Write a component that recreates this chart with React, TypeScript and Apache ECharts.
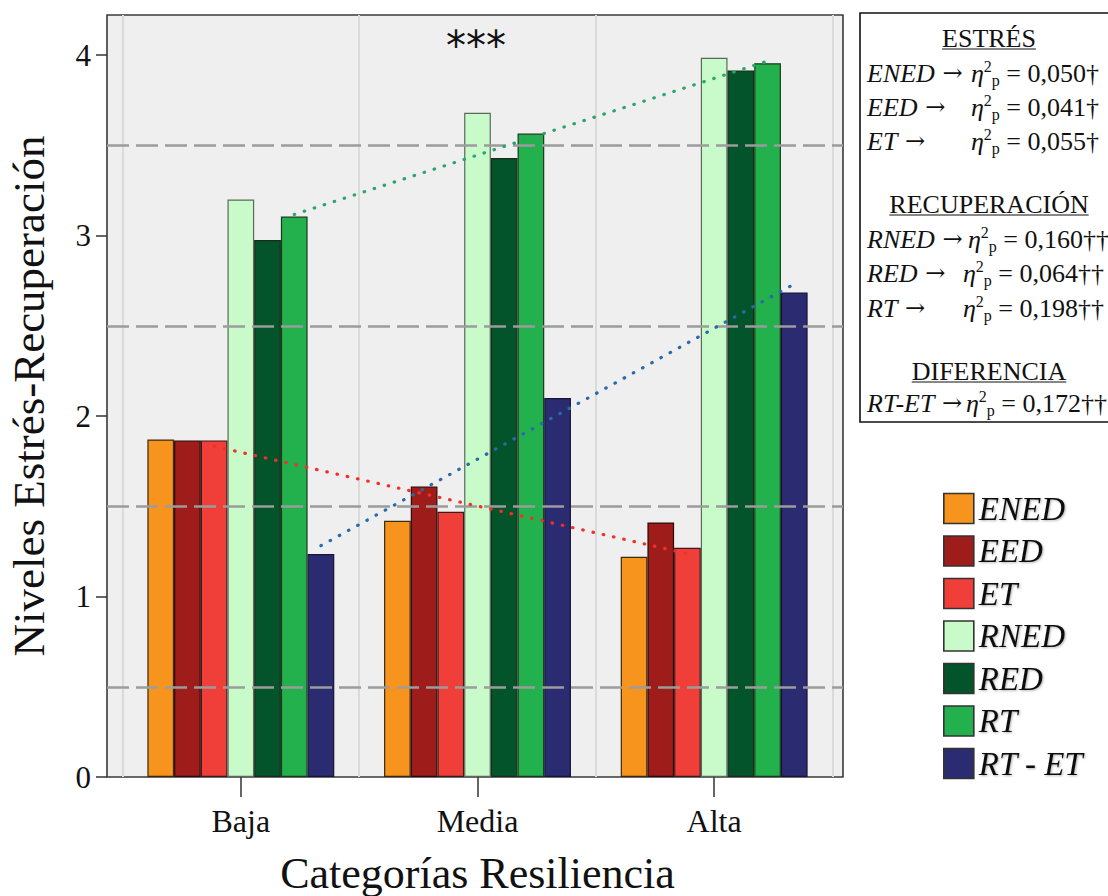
import React, { useEffect, useRef } from "react";
import * as echarts from "echarts";

// Resilience categories on the x axis
const categories = ["Baja", "Media", "Alta"];

// Stress / recovery scores per resilience category
const seriesNames = ["ENED", "EED", "ET", "RNED", "RED", "RT", "RT - ET"];
const enedValues = [1.87, 1.42, 1.22];
const eedValues = [1.865, 1.61, 1.41];
const etValues = [1.865, 1.47, 1.27];
const rnedValues = [3.2, 3.68, 3.985];
const redValues = [2.975, 3.43, 3.915];
const rtValues = [3.105, 3.565, 3.955];
const rtEtValues = [1.235, 2.1, 2.685];
const seriesValues = [enedValues, eedValues, etValues, rnedValues, redValues, rtValues, rtEtValues];
const seriesColors = ["#f7941d", "#9e1c1a", "#ef3f38", "#c8fbc9", "#03542a", "#22b14c", "#2b2b72"];
const seriesBorders = ["#3a2a10", "#2a0a0a", "#3a1a1a", "#5a6a5a", "#1a2a1a", "#1a3a1a", "#15153a"];

// Axis ticks and the dashed reference lines between them
const yTicks = [0, 1, 2, 3, 4];
const halfLines = [0.5, 1.5, 2.5, 3.5];
const Y_MAX = 4.222;

// Dotted least-squares trend lines drawn over some of the series
const trendSeries = [
  { index: 2, color: "#f0302a" },
  { index: 5, color: "#2ba56a" },
  { index: 6, color: "#2a6aa8" },
];

// Effect sizes shown in the side box
const boxSections = [
  {
    title: "ESTRÉS",
    y: 38,
    rows: [
      { label: "ENED", stat: "0,050†", y: 73, right: 1099 },
      { label: "EED", stat: "0,041†", y: 107, right: 1099 },
      { label: "ET", stat: "0,055†", y: 141, right: 1099 },
    ],
  },
  {
    title: "RECUPERACIÓN",
    y: 204,
    rows: [
      { label: "RNED", stat: "0,160††", y: 239, right: 1109 },
      { label: "RED", stat: "0,064††", y: 273, right: 1104 },
      { label: "RT", stat: "0,198††", y: 308, right: 1104 },
    ],
  },
  {
    title: "DIFERENCIA",
    y: 371,
    rows: [{ label: "RT-ET", stat: "0,172††", y: 403, right: 1107 }],
  },
];

const SERIF = "Liberation Serif, serif";
const ARROW_FONT = "DejaVu Serif, serif";
const BAR_WIDTH = 26.7;
const BAND_WIDTH = 236.7;

function measureText(text: string, font: string): number {
  const ctx = document.createElement("canvas").getContext("2d");
  if (!ctx) return text.length * 14;
  ctx.font = font;
  return ctx.measureText(text).width;
}

// Least-squares line through the three category points (x = 0, 1, 2)
function linearFit(values: number[]): [number, number] {
  const n = values.length;
  const xs = values.map((_, i) => i);
  const mx = xs.reduce((a, b) => a + b, 0) / n;
  const my = values.reduce((a, b) => a + b, 0) / n;
  let sxy = 0;
  let sxx = 0;
  xs.forEach((x, i) => {
    sxy += (x - mx) * (values[i] - my);
    sxx += (x - mx) * (x - mx);
  });
  const slope = sxy / sxx;
  const intercept = my - slope * mx;
  return [intercept, intercept + slope * (n - 1)];
}

function buildBoxGraphics() {
  const els: any[] = [];
  els.push({
    type: "rect",
    shape: { x: 860, y: 13, width: 262, height: 409 },
    style: { fill: "#ffffff", stroke: "#111", lineWidth: 1.6 },
    z: 10,
  });
  const fontSize = 26;
  const rich = {
    it: { fontFamily: SERIF, fontSize, fontStyle: "italic", fill: "#111", lineHeight: 30 },
    n: { fontFamily: SERIF, fontSize, fill: "#111", lineHeight: 30 },
    ar: { fontFamily: ARROW_FONT, fontSize: 24, fill: "#111", lineHeight: 30 },
    sup: { fontFamily: SERIF, fontSize: 16, fill: "#111", lineHeight: 14, verticalAlign: "top" },
    sub: { fontFamily: SERIF, fontSize: 16, fill: "#111", lineHeight: 14, verticalAlign: "bottom" },
  };
  boxSections.forEach((sec) => {
    const w = measureText(sec.title, `${fontSize}px ${SERIF}`);
    els.push({
      type: "text",
      x: 989,
      y: sec.y,
      z: 11,
      style: {
        text: sec.title,
        fontFamily: SERIF,
        fontSize,
        fill: "#111",
        textAlign: "center",
        align: "center",
        textVerticalAlign: "middle",
        verticalAlign: "middle",
      },
    });
    els.push({
      type: "line",
      z: 11,
      shape: { x1: 989 - w / 2, y1: sec.y + 11, x2: 989 + w / 2, y2: sec.y + 11 },
      style: { stroke: "#111", lineWidth: 1.2 },
    });
    sec.rows.forEach((row) => {
      els.push({
        type: "text",
        x: 867,
        y: row.y,
        z: 11,
        style: {
          text: `{it|${row.label}}{ar| →}`,
          rich,
          textAlign: "left",
          align: "left",
          textVerticalAlign: "middle",
          verticalAlign: "middle",
        },
      });
      els.push({
        type: "text",
        x: row.right,
        y: row.y,
        z: 11,
        style: {
          text: `{it|η}{sup|2}{sub|p}{n| = ${row.stat}}`,
          rich,
          textAlign: "right",
          align: "right",
          textVerticalAlign: "middle",
          verticalAlign: "middle",
        },
      });
    });
  });
  els.push({
    type: "text",
    x: 476,
    y: 46,
    z: 11,
    style: {
      text: "***",
      fontFamily: "DejaVu Sans, sans-serif",
      fontSize: 40,
      fill: "#111",
      textAlign: "center",
      align: "center",
      textVerticalAlign: "middle",
      verticalAlign: "middle",
    },
  });
  return els;
}

export default function App() {
  const ref = useRef<HTMLDivElement>(null);

  useEffect(() => {
    if (!ref.current) return;
    document.body.style.margin = "0";
    const chart = echarts.init(ref.current, undefined, { renderer: "svg" });

    const barSeries = seriesNames.map((name, i) => ({
      type: "bar",
      name,
      xAxisIndex: 0,
      yAxisIndex: 0,
      data: seriesValues[i],
      barWidth: BAR_WIDTH,
      barGap: "0%",
      z: 3,
      itemStyle: { color: seriesColors[i], borderColor: seriesBorders[i], borderWidth: 1.2 },
    }));

    const trendLines = trendSeries.map((t) => {
      const off = ((t.index - (seriesNames.length - 1) / 2) * BAR_WIDTH) / BAND_WIDTH;
      const [a, b] = linearFit(seriesValues[t.index]);
      return {
        type: "line",
        name: `trend-${seriesNames[t.index]}`,
        xAxisIndex: 1,
        yAxisIndex: 0,
        data: [
          [off, a],
          [categories.length - 1 + off, b],
        ],
        symbol: "none",
        silent: true,
        z: 6,
        lineStyle: { color: t.color, width: 3.2, type: [0.5, 10], cap: "round" },
      };
    });

    const referenceLines = {
      type: "line",
      name: "half-lines",
      xAxisIndex: 2,
      yAxisIndex: 1,
      data: [[0, 0]],
      symbol: "none",
      silent: true,
      z: 1,
      lineStyle: { opacity: 0 },
      markLine: {
        symbol: "none",
        silent: true,
        label: { show: false },
        lineStyle: { type: [22, 7], color: "#9c9c9c", width: 2.5 },
        data: halfLines.map((v) => ({ yAxis: v })),
      },
    };

    chart.setOption({
      animation: false,
      backgroundColor: "#ffffff",
      grid: [
        { left: 122.5, right: 275.5, top: 15, bottom: 119, show: false, containLabel: false, outerBoundsMode: "none" },
        {
          left: 107,
          right: 265,
          top: 15,
          bottom: 119,
          show: true,
          backgroundColor: "#efefef",
          borderColor: "#3a3a3a",
          borderWidth: 1.6,
          containLabel: false,
          outerBoundsMode: "none",
        },
      ],
      xAxis: [
        {
          type: "category",
          gridIndex: 0,
          data: categories,
          boundaryGap: true,
          axisLine: { show: false },
          axisTick: { show: true, alignWithLabel: true, length: 20, lineStyle: { color: "#333", width: 1.5 } },
          axisLabel: { margin: 28, fontSize: 32, fontFamily: SERIF, color: "#111" },
          splitLine: { show: true, lineStyle: { color: "#dadada", width: 2 } },
          name: "Categorías Resiliencia",
          nameLocation: "middle",
          nameGap: 74,
          nameTextStyle: { fontSize: 44, fontFamily: SERIF, color: "#111" },
        },
        { type: "value", gridIndex: 0, min: -0.5, max: 2.5, show: false },
        { type: "value", gridIndex: 1, min: 0, max: 1, show: false },
      ],
      yAxis: [
        { type: "value", gridIndex: 0, min: 0, max: Y_MAX, show: false },
        {
          type: "value",
          gridIndex: 1,
          min: 0,
          max: Y_MAX,
          interval: 1,
          axisLine: { show: false },
          axisTick: { show: true, length: 11, customValues: yTicks, lineStyle: { color: "#333", width: 1.5 } },
          axisLabel: { customValues: yTicks, margin: 16, fontSize: 31, fontFamily: SERIF, color: "#111" },
          splitLine: { show: false },
          name: "Niveles Estrés-Recuperación",
          nameLocation: "middle",
          nameRotate: 90,
          nameGap: 56,
          nameTextStyle: { fontSize: 45, fontFamily: SERIF, color: "#111" },
        },
      ],
      legend: {
        data: seriesNames,
        orient: "vertical",
        left: 943,
        top: 492,
        padding: 0,
        itemWidth: 30,
        itemHeight: 30,
        itemGap: 9.5,
        icon: "rect",
        itemStyle: { borderColor: "#333", borderWidth: 1.6 },
        textStyle: {
          fontFamily: SERIF,
          fontStyle: "italic",
          fontSize: 33,
          lineHeight: 30,
          color: "#111",
          textShadowColor: "rgba(0,0,0,0.3)",
          textShadowBlur: 2,
          textShadowOffsetX: 1,
          textShadowOffsetY: 1,
        },
        selectedMode: false,
      },
      tooltip: { show: false },
      graphic: { elements: buildBoxGraphics() },
      series: [referenceLines, ...barSeries, ...trendLines],
    });

    return () => chart.dispose();
  }, []);

  return (
    <div style={{ position: "fixed", left: 0, top: 0, width: 1108, height: 896, background: "#fff" }}>
      <div ref={ref} style={{ width: 1108, height: 896 }} />
    </div>
  );
}
